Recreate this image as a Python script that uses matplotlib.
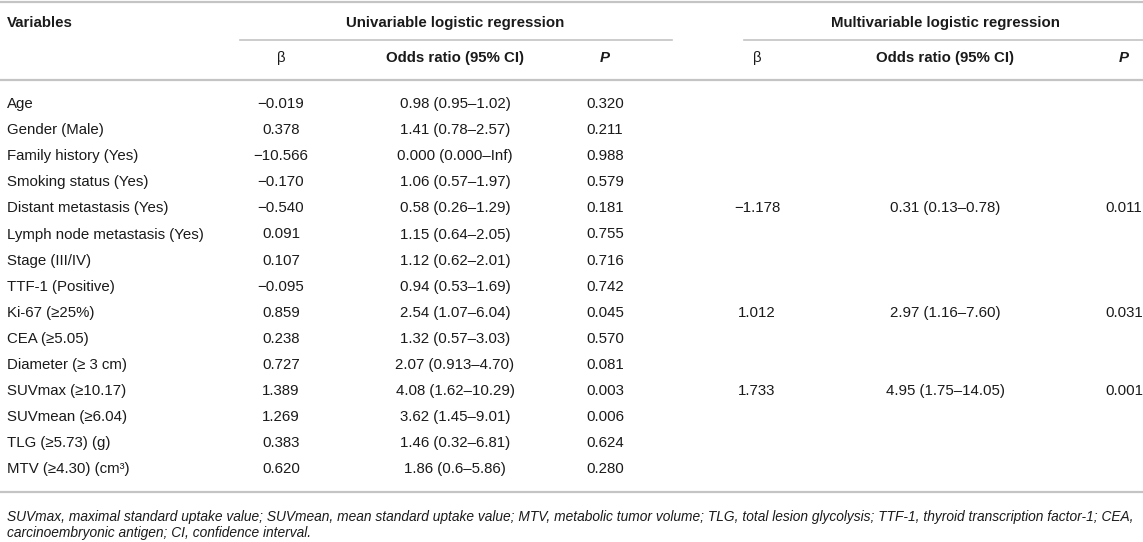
import matplotlib.pyplot as plt

plt.rcParams['font.family'] = ['Liberation Sans', 'DejaVu Sans']

# table content
variables = ["Age", "Gender (Male)", "Family history (Yes)", "Smoking status (Yes)",
             "Distant metastasis (Yes)", "Lymph node metastasis (Yes)", "Stage (III/IV)",
             "TTF-1 (Positive)", "Ki-67 (≥25%)", "CEA (≥5.05)", "Diameter (≥ 3 cm)",
             "SUVmax (≥10.17)", "SUVmean (≥6.04)", "TLG (≥5.73) (g)", "MTV (≥4.30) (cm³)"]
uni_beta = ["−0.019", "0.378", "−10.566", "−0.170", "−0.540", "0.091", "0.107", "−0.095",
            "0.859", "0.238", "0.727", "1.389", "1.269", "0.383", "0.620"]
uni_or = ["0.98 (0.95–1.02)", "1.41 (0.78–2.57)", "0.000 (0.000–Inf)", "1.06 (0.57–1.97)",
          "0.58 (0.26–1.29)", "1.15 (0.64–2.05)", "1.12 (0.62–2.01)", "0.94 (0.53–1.69)",
          "2.54 (1.07–6.04)", "1.32 (0.57–3.03)", "2.07 (0.913–4.70)", "4.08 (1.62–10.29)",
          "3.62 (1.45–9.01)", "1.46 (0.32–6.81)", "1.86 (0.6–5.86)"]
uni_p = ["0.320", "0.211", "0.988", "0.579", "0.181", "0.755", "0.716", "0.742",
         "0.045", "0.570", "0.081", "0.003", "0.006", "0.624", "0.280"]
multi_beta = ["", "", "", "", "−1.178", "", "", "", "1.012", "", "", "1.733", "", "", ""]
multi_or = ["", "", "", "", "0.31 (0.13–0.78)", "", "", "", "2.97 (1.16–7.60)", "", "",
            "4.95 (1.75–14.05)", "", "", ""]
multi_p = ["", "", "", "", "0.011", "", "", "", "0.031", "", "", "0.001", "", "", ""]

footnote = ["SUVmax, maximal standard uptake value; SUVmean, mean standard uptake value; "
            "MTV, metabolic tumor volume; TLG, total lesion glycolysis; TTF-1, thyroid "
            "transcription factor-1; CEA,",
            "carcinoembryonic antigen; CI, confidence interval."]

W, H = 1143, 542
fig = plt.figure(figsize=(W / 100, H / 100), dpi=100)
ax = fig.add_axes([0, 0, 1, 1])
ax.set_xlim(0, W)
ax.set_ylim(H, 0)
ax.axis('off')

txt = '#1a1a1a'
line_c = '#c4c4c4'
fs = 10.8

# column centres
col_x = [281, 455, 605, 757, 945, 1124]
row0, pitch = 104, 26.1

# rules
ax.plot([0, W], [2, 2], color=line_c, lw=1.6)
ax.plot([240, 672], [40, 40], color=line_c, lw=1.2)
ax.plot([744, W], [40, 40], color=line_c, lw=1.2)
ax.plot([0, W], [80, 80], color=line_c, lw=1.6)
ax.plot([0, W], [492, 492], color=line_c, lw=1.6)

# header
ax.text(7, 23, "Variables", fontsize=fs, fontweight='bold', color=txt, va='center')
ax.text(455, 23, "Univariable logistic regression", fontsize=fs, fontweight='bold',
        color=txt, va='center', ha='center')
ax.text(945, 23, "Multivariable logistic regression", fontsize=fs, fontweight='bold',
        color=txt, va='center', ha='center')
heads = ["β", "Odds ratio (95% CI)", "P", "β", "Odds ratio (95% CI)", "P"]
for x, h in zip(col_x, heads):
    if h == "β":
        ax.text(x, 58, h, fontsize=fs, color=txt, va='center', ha='center')
    elif h == "P":
        ax.text(x, 58, h, fontsize=fs, color=txt, va='center', ha='center',
                fontweight='bold', style='italic')
    else:
        ax.text(x, 58, h, fontsize=fs, color=txt, va='center', ha='center', fontweight='bold')

# body
columns = [uni_beta, uni_or, uni_p, multi_beta, multi_or, multi_p]
for i, name in enumerate(variables):
    y = row0 + i * pitch
    ax.text(7, y, name, fontsize=fs, color=txt, va='center')
    for x, col in zip(col_x, columns):
        if col[i]:
            ax.text(x, y, col[i], fontsize=fs, color=txt, va='center', ha='center')

for k, line in enumerate(footnote):
    ax.text(7, 517 + k * 16, line, fontsize=9.9, style='italic', color=txt, va='center')

fig.savefig("out.png", dpi=100)
